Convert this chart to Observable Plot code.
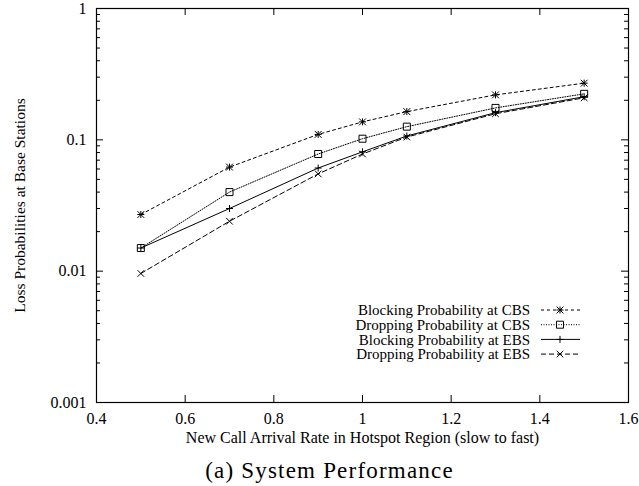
<!DOCTYPE html>
<html><head><meta charset="utf-8">
<script src="https://cdn.jsdelivr.net/npm/d3@7"></script>
<script src="https://cdn.jsdelivr.net/npm/@observablehq/plot@0.6"></script>
<style>body{margin:0;background:#fff}svg{display:block}</style>
</head><body><div id="chart"></div>
<script>
// ---- data ----
const rate = [0.5, 0.7, 0.9, 1.0, 1.1, 1.3, 1.5];
const blockingCBS = [0.027, 0.062, 0.11, 0.137, 0.164, 0.22, 0.27];
const droppingCBS = [0.015, 0.040, 0.078, 0.102, 0.126, 0.175, 0.224];
const blockingEBS = [0.015, 0.030, 0.061, 0.081, 0.107, 0.161, 0.213];
const droppingEBS = [0.0096, 0.024, 0.055, 0.078, 0.105, 0.158, 0.209];
const seriesNames = ["Blocking Probability at CBS", "Dropping Probability at CBS", "Blocking Probability at EBS", "Dropping Probability at EBS"];
const xTicks = [0.4, 0.6, 0.8, 1.0, 1.2, 1.4, 1.6];
const xTickLabels = ["0.4", "0.6", "0.8", "1", "1.2", "1.4", "1.6"];
const yTicks = [0.001, 0.01, 0.1, 1];
const yTickLabels = ["0.001", "0.01", "0.1", "1"];
const xLabel = "New Call Arrival Rate in Hotspot Region (slow to fast)";
const yLabel = "Loss Probabilities at Base Stations";
const captionText = "(a) System Performance";

// ---- styling ----
const W = 639, H = 486;
const mL = 96, mR = 11, mT = 8, mB = 84;
const fw = W - mL - mR, fh = H - mT - mB;
const dashes = ["3,3", "1,1.5", null, "5,3"];
const symSpecs = [
  [["plus", 2.4], ["times", 3.2]],
  [["square", 3.95]],
  [["plus", 2.4]],
  [["times", 3.1]]
];
const allSeries = [blockingCBS, droppingCBS, blockingEBS, droppingEBS];
const rows = allSeries.map((vals, s) => rate.map((x, i) => ({x, y: vals[i], s})));
const yMinor = [];
for (const dec of [0.001, 0.01, 0.1]) for (let k = 2; k <= 9; k++) yMinor.push(dec * k);

const marks = [];
marks.push(Plot.tickX(xTicks, {x: d => d, insetTop: fh - 7, stroke: "black"}));
marks.push(Plot.tickX(xTicks, {x: d => d, insetBottom: fh - 7, stroke: "black"}));
marks.push(Plot.tickY(yTicks, {y: d => d, insetRight: fw - 7, stroke: "black"}));
marks.push(Plot.tickY(yTicks, {y: d => d, insetLeft: fw - 7, stroke: "black"}));
marks.push(Plot.tickY(yMinor, {y: d => d, insetRight: fw - 4, stroke: "black"}));
marks.push(Plot.tickY(yMinor, {y: d => d, insetLeft: fw - 4, stroke: "black"}));
// tick labels
marks.push(Plot.text(xTicks, {x: d => d, text: (d, i) => xTickLabels[i], frameAnchor: "bottom", lineAnchor: "middle", dy: 16, fontSize: 16}));
marks.push(Plot.text(yTicks, {y: d => d, text: (d, i) => yTickLabels[i], frameAnchor: "left", textAnchor: "end", lineAnchor: "middle", dx: -10, fontSize: 16}));
rows.forEach((r, s) => {
  marks.push(Plot.line(r, {x: "x", y: "y", stroke: "black", strokeWidth: 1, strokeDasharray: dashes[s]}));
  symSpecs[s].forEach(([sym, rr]) => {
    marks.push(Plot.dot(r, {x: "x", y: "y", symbol: sym, r: rr, stroke: "black", strokeWidth: 1, fill: "none"}));
  });
});
marks.push(Plot.frame({stroke: "black", strokeWidth: 1.2}));
marks.push(Plot.text([xLabel], {text: d => d, frameAnchor: "bottom", textAnchor: "middle", lineAnchor: "middle", dy: 35, fontSize: 16}));
marks.push(Plot.text([yLabel], {text: d => d, frameAnchor: "left", textAnchor: "middle", lineAnchor: "middle", dx: -76, rotate: -90, fontSize: 15.5}));
marks.push(Plot.text([captionText], {text: d => d, frameAnchor: "bottom", textAnchor: "middle", lineAnchor: "middle", dx: -33, dy: 68, fontSize: 23, letterSpacing: "1.2px"}));

const chart = Plot.plot({
  width: W, height: H,
  marginLeft: mL, marginRight: mR, marginTop: mT, marginBottom: mB,
  axis: null,
  style: {fontFamily: "'Liberation Serif', 'Times New Roman', serif", fontSize: "16px", color: "black", background: "white"},
  x: {domain: [0.4, 1.6]},
  y: {type: "log", domain: [0.001, 1]},
  marks
});
document.getElementById("chart").appendChild(chart);

// caption letter spacing
d3.select(chart).selectAll("text").filter(function() { return this.textContent === captionText; }).attr("letter-spacing", "1.2px");

// ---- legend ----
const svg = d3.select(chart);
const lg = svg.append("g").attr("class", "legend").attr("font-size", 15).attr("fill", "black");
seriesNames.forEach((name, s) => {
  const y = 310 + s * 14.7;
  lg.append("text").attr("x", 530).attr("y", y).attr("dy", "0.35em").attr("text-anchor", "end").text(name);
  lg.append("line").attr("x1", 541).attr("x2", 580).attr("y1", y).attr("y2", y)
    .attr("stroke", "black").attr("stroke-width", 1).attr("stroke-dasharray", dashes[s]);
  symSpecs[s].forEach(([sym, rr]) => {
    const type = {plus: d3.symbolPlus, times: d3.symbolTimes, square: d3.symbolSquare}[sym];
    lg.append("path").attr("d", d3.symbol(type, rr * rr * Math.PI)())
      .attr("transform", `translate(560,${y})`).attr("fill", "none").attr("stroke", "black");
  });
});
</script></body></html>
